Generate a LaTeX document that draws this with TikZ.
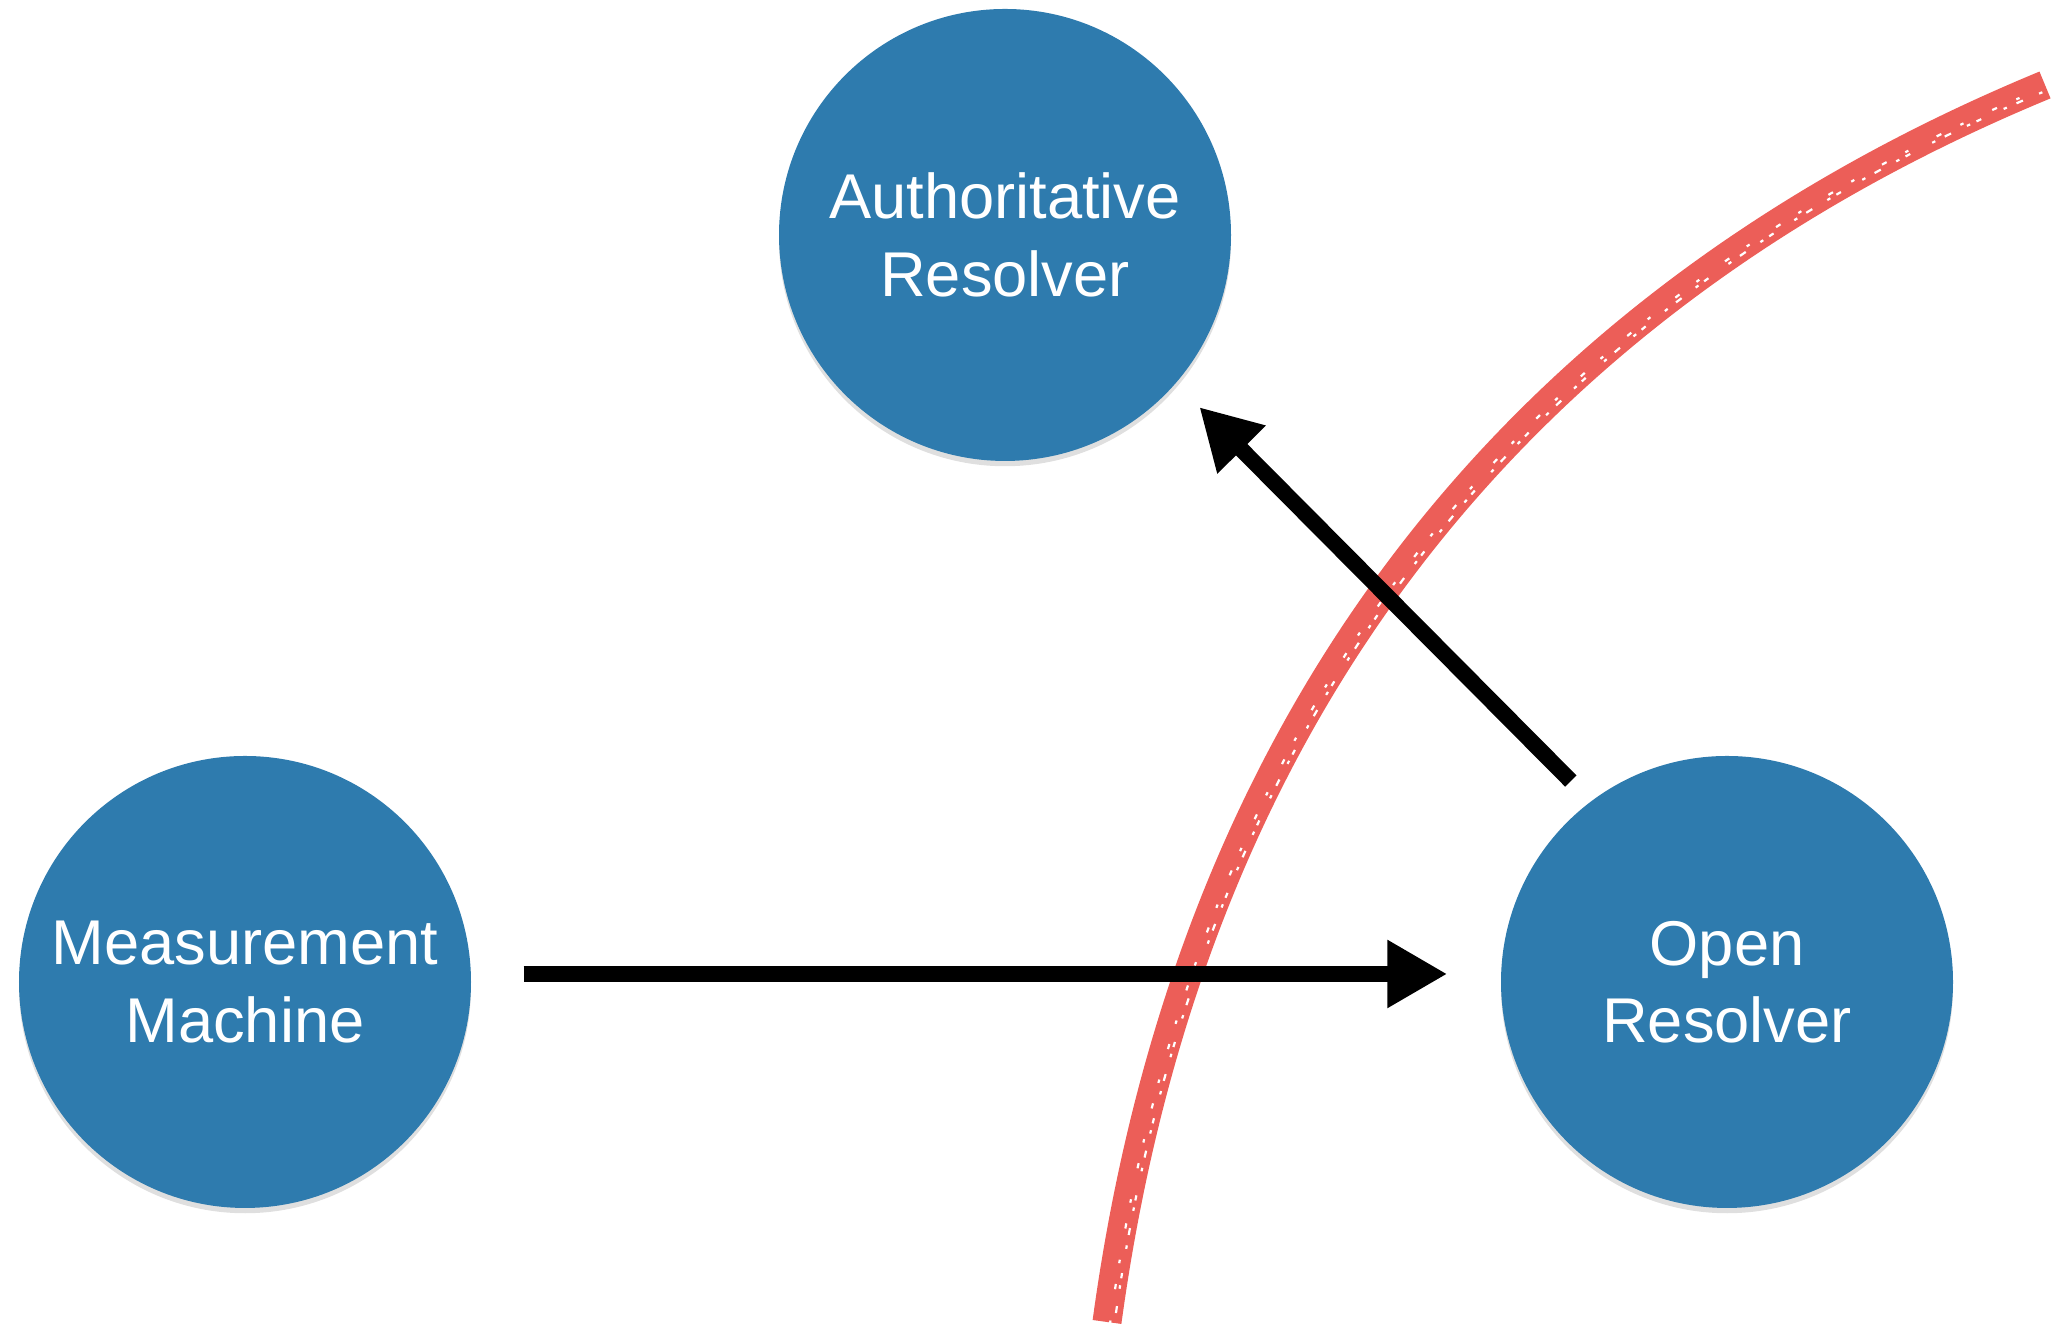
\documentclass[tikz,border=0pt]{standalone}
\usepackage{fontspec}
\setmainfont{Liberation Sans}
\usepackage{xcolor}
\usepackage{tikz}
\usetikzlibrary{arrows.meta}
\usetikzlibrary{shadows}

\definecolor{hostblue}{RGB}{46,123,174}
\definecolor{chalkred}{RGB}{236,94,88}

\begin{document}
\begin{tikzpicture}[host/.style={circle, fill=hostblue, minimum size=4.52cm, inner sep=0pt, text=white, align=center, font=\fontsize{18}{22}\selectfont, drop shadow={opacity=0.25, shadow xshift=0pt, shadow yshift=-1.5pt}}, query/.style={line width=0.16cm, -{Triangle[length=0.6cm, width=0.64cm]}}, crayon/.style={chalkred, line join=round}, speckle/.style={white, line width=0.022cm}]
	\useasboundingbox (0,0) rectangle (20.55,13.32);
		\node[host](auth) at (10.05,10.97) {Authoritative\\Resolver};
		\node[host](meas) at (2.45,3.50) {Measurement\\Machine};
		\node[host](open) at (17.27,3.50) {Open\\Resolver};
		% boundary
		\coordinate (cutlow) at (11.07,0.10);
		\coordinate (cuthigh) at (20.45,12.47);
		\draw[crayon, line width=0.29cm] (cutlow) .. controls (11.9,6.2) and (15.2,10.3) .. (cuthigh);
		\draw[speckle, dash pattern={on 1pt off 3pt on 2pt off 5pt on 1pt off 2pt on 1.5pt off 7pt}] ([shift={(0.07,-0.05)}]cutlow) .. controls (11.97,6.14) and (15.27,10.24) .. ([shift={(-0.02,-0.07)}]cuthigh);
		\draw[speckle, dash pattern={on 1pt off 9pt on 1.5pt off 6pt}] ([shift={(0.03,-0.02)}]cutlow) .. controls (11.93,6.17) and (15.23,10.27) .. ([shift={(-0.02,-0.03)}]cuthigh);
		% queries
		\draw[query, shorten <=0.52cm, shorten >=0.53cm] ([yshift=0.08cm]meas.east) -- ([yshift=0.08cm]open.west);
		\draw[query, shorten <=0.28cm, shorten >=0.33cm] (open.127) -- (auth.-41);
	\end{tikzpicture}
\end{document}
